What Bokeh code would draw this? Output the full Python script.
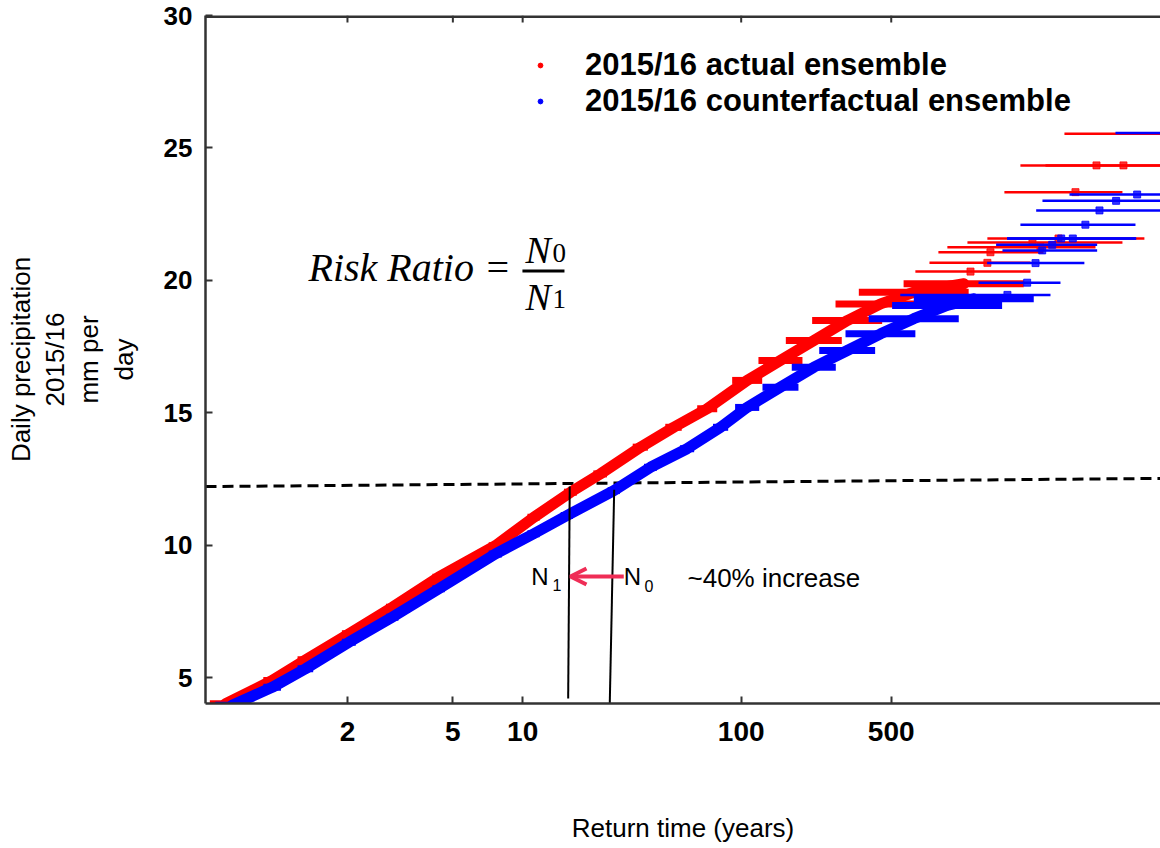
import numpy as np
from bokeh.plotting import figure
from bokeh.models import (Range1d, LinearAxis, FixedTicker, Label, Arrow, OpenHead,
                          Legend, LegendItem)
from bokeh.embed import file_html
from bokeh.resources import INLINE

# ---------------- data ----------------
# x tick marks (return time, years)
x_tick_T = [2, 5, 10, 100, 500]
x_tick_labels = ["2", "5", "10", "100", "500"]
y_ticks = [5, 10, 15, 20, 25, 30]

# 2015/16 actual ensemble (red): return time, precipitation, uncertainty range
red_T = [1.083, 1.267, 1.508, 2.02, 2.868, 4.37, 7.60, 11.2, 16.4, 22.4, 34.2, 48.7,
         69.5, 106.5, 152, 218, 312, 446, 637, 1091]
red_y = [4.01, 4.89, 5.67, 6.65, 7.65, 8.79, 9.98, 11.05, 12.0, 12.69, 13.70, 14.45,
         15.15, 16.22, 16.97, 17.73, 18.48, 19.11, 19.55, 19.87]
red_lo = [1.05, 1.22, 1.44, 1.92, 2.72, 4.12, 7.1, 10.5, 15.3, 20.8, 31.5, 44.5,
          62.5, 90.8, 120.3, 161.3, 213.9, 274.9, 353, 571]
red_hi = [1.12, 1.32, 1.58, 2.13, 3.03, 4.63, 8.1, 11.9, 17.5, 24.0, 37.0, 53.0,
          77.4, 125.2, 192.8, 294, 453.5, 722, 1149, 2078]

red_tail_y = [25.53, 24.34, 24.34, 23.33, 21.58, 21.43, 21.25, 21.06, 20.66, 20.33]
red_tail_T = [11820, 4541, 6068, 3622, 3018, 2281, 2486, 1452, 1405, 1172]
red_tail_lo = [3217, 2004, 2624, 1687, 1405, 1134, 914, 830, 754, 648]
red_tail_hi = [50400, 11820, 17220, 6002, 7600, 6002, 4492, 2568, 2233, 2233]

# 2015/16 counterfactual ensemble (blue)
blue_T = [1.100, 1.267, 1.508, 2.02, 2.868, 4.37, 7.60, 11.2, 15.8, 25.8, 38.0, 56.1,
          80.1, 106.5, 152, 218, 312, 446, 637, 912, 1214]
blue_y = [3.95, 4.63, 5.33, 6.33, 7.28, 8.35, 9.67, 10.43, 11.12, 12.06, 12.94, 13.64,
          14.45, 15.2, 15.96, 16.72, 17.35, 17.98, 18.55, 19.05, 19.30]
blue_lo = [1.06, 1.22, 1.44, 1.92, 2.72, 4.12, 7.1, 10.5, 14.8, 24.2, 35.5, 52.0,
           74.0, 93.7, 125.6, 171.9, 230.8, 306, 392.5, 504.7, 637]
blue_hi = [1.14, 1.32, 1.58, 2.13, 3.03, 4.63, 8.1, 11.9, 16.8, 27.5, 40.7, 60.5,
           87.0, 121.3, 184.7, 275.7, 420.6, 648, 1033, 1646, 2313]

blue_tail_y = [25.56, 23.24, 23.00, 22.64, 22.10, 21.58, 21.58, 21.34, 21.13, 20.65, 19.91, 19.45]
blue_tail_T = [12480, 7030, 5607, 4689, 4030, 3107, 3520, 2820, 2533, 2358, 2155, 1743]
blue_tail_lo = [5568, 3396, 2540, 2374, 2004, 1737, 1737, 1543, 1652, 1401, 1277, 551]
blue_tail_hi = [56000, 17220, 13900, 10620, 6905, 6954, 6954, 4573, 4573, 3986, 3083, 2769]

# threshold (dashed) and N1 / N0 return-time markers
threshold_y = [12.21, 12.52]
n1_T = [16.25, 15.99]
n1_y = [12.21, 4.21]
n0_T = [25.9, 24.7]
n0_y = [12.09, 3.87]


def gumbel(T):
    T = np.asarray(T, dtype=float)
    return -np.log(-np.log(1.0 - 1.0 / T))


RED = "#ff0000"
BLUE = "#0000ff"
AXC = "#333333"
SANS = "Liberation Sans"
SERIF = "Liberation Serif"

X0, X1 = -1.160, 9.109
Y0, Y1 = 4.02, 30.0
p = figure(width=1160, height=848, x_range=Range1d(X0, X1), y_range=Range1d(Y0, Y1),
           output_backend="svg", toolbar_location=None,
           x_axis_location=None, y_axis_location=None,
           min_border_left=205, min_border_right=0, min_border_top=15, min_border_bottom=145)
p.outline_line_color = None
p.background_fill_color = "white"
p.border_fill_color = "white"
p.grid.visible = False

# axes
xt_ticks = [float(v) for v in gumbel(x_tick_T)]
ticker_x = FixedTicker(ticks=xt_ticks, minor_ticks=[])
xb = LinearAxis(ticker=ticker_x,
                major_label_overrides={t: s for t, s in zip(xt_ticks, x_tick_labels)},
                axis_label="Return time (years)")
xb.major_label_text_font = SANS
xb.major_label_text_font_style = "bold"
xb.major_label_text_font_size = "28px"
xb.major_label_text_color = "black"
xb.major_label_standoff = 18
xb.axis_label_text_font = SANS
xb.axis_label_text_font_style = "normal"
xb.axis_label_text_font_size = "26px"
xb.axis_label_text_color = "black"
xb.axis_label_standoff = 69
p.add_layout(xb, "below")

yl = LinearAxis(ticker=FixedTicker(ticks=y_ticks, minor_ticks=[]),
                axis_label="Daily precipitation\n2015/16\nmm per\nday")
yl.major_label_text_font = SANS
yl.major_label_text_font_style = "bold"
yl.major_label_text_font_size = "26px"
yl.major_label_text_color = "black"
yl.major_label_standoff = 13
yl.axis_label_text_font = SANS
yl.axis_label_text_font_style = "normal"
yl.axis_label_text_font_size = "26px"
yl.axis_label_text_color = "black"
yl.axis_label_text_line_height = 1.14
yl.axis_label_standoff = 22
p.add_layout(yl, "left")

for ax in [xb, yl]:
    ax.axis_line_color = AXC
    ax.axis_line_width = 2.5
    ax.major_tick_line_color = AXC
    ax.major_tick_line_width = 2
    ax.major_tick_in = 7
    ax.major_tick_out = 0

# top spine with inward ticks (same tick positions as the bottom axis)
p.segment(x0=[X0], y0=[Y1], x1=[X1], y1=[Y1], line_color=AXC, line_width=5)
p.segment(x0=xt_ticks, y0=[Y1] * len(xt_ticks), x1=xt_ticks,
          y1=[Y1 - 7 / 26.48] * len(xt_ticks), line_color=AXC, line_width=2)

# threshold dashed line
p.segment(x0=[X0], y0=[threshold_y[0]], x1=[X1], y1=[threshold_y[1]],
          line_color="black", line_width=3, line_dash="11 6")

# red ensemble
p.line(gumbel(red_T), red_y, line_color=RED, line_width=11, line_cap="round", line_join="round")
p.segment(gumbel(red_lo), red_y, gumbel(red_hi), red_y, line_color=RED, line_width=7)
r_red = p.scatter(gumbel(red_T), red_y, marker="circle", size=9, color=RED)
p.segment(gumbel(red_tail_lo), red_tail_y, gumbel(red_tail_hi), red_tail_y,
          line_color=RED, line_width=2.5)
p.scatter(gumbel(red_tail_T), red_tail_y, marker="square", size=7, color=RED, alpha=0.8)

# blue ensemble
p.line(gumbel(blue_T), blue_y, line_color=BLUE, line_width=11, line_cap="round", line_join="round")
p.segment(gumbel(blue_lo), blue_y, gumbel(blue_hi), blue_y, line_color=BLUE, line_width=7)
r_blue = p.scatter(gumbel(blue_T), blue_y, marker="circle", size=9, color=BLUE)
p.segment(gumbel(blue_tail_lo), blue_tail_y, gumbel(blue_tail_hi), blue_tail_y,
          line_color=BLUE, line_width=2.5)
p.scatter(gumbel(blue_tail_T), blue_tail_y, marker="square", size=7, color=BLUE, alpha=0.8)

# N1 / N0 lines
p.line(gumbel(n1_T), n1_y, line_color="black", line_width=2)
p.line(gumbel(n0_T), n0_y, line_color="black", line_width=2)

# arrow N0 -> N1
p.add_layout(Arrow(end=OpenHead(size=16, line_color="#ef2d56", line_width=4),
                   x_start=3.3376, y_start=8.814, x_end=2.7645, y_end=8.814,
                   line_color="#ef2d56", line_width=4))


def lab(x, y, text, size, font=SANS, style="normal"):
    p.add_layout(Label(x=x, y=y, text=text, text_font=font, text_font_style=style,
                       text_font_size=size, text_color="black", text_baseline="middle",
                       text_align="left"))


lab(2.342, 8.826, "N", "24px")
lab(2.571, 8.512, "1", "16px")
lab(3.338, 8.826, "N", "24px")
lab(3.560, 8.474, "0", "16px")
lab(4.023, 8.76, "~40% increase", "26px")

# Risk ratio formula
lab(-0.053, 20.483, "Risk Ratio =", "40px", font=SERIF, style="italic")
lab(2.281, 21.155, "N", "38px", font=SERIF, style="italic")
lab(2.571, 21.031, "0", "27px", font=SERIF)
p.segment(x0=[2.248], y0=[20.351], x1=[2.700], y1=[20.351], line_color="black", line_width=3)
lab(2.281, 19.369, "N", "38px", font=SERIF, style="italic")
lab(2.571, 19.313, "1", "27px", font=SERIF)

legend = Legend(items=[LegendItem(label="2015/16 actual ensemble", renderers=[r_red]),
                       LegendItem(label="2015/16 counterfactual ensemble", renderers=[r_blue])],
                location=(329, 584), label_text_font=SANS, label_text_font_style="bold",
                label_text_font_size="31px", label_text_color="black",
                glyph_width=12, glyph_height=12, label_standoff=39, spacing=0,
                padding=0, margin=0, border_line_color=None, background_fill_alpha=0)
p.add_layout(legend)

open("out.html", "w").write(file_html(p, INLINE))
